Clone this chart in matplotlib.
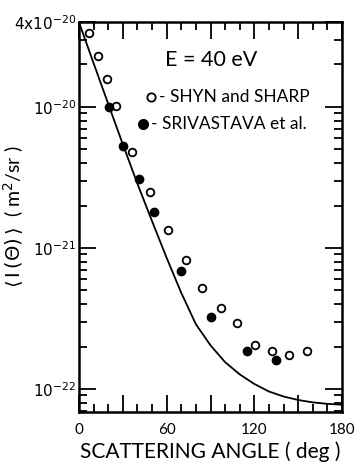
import matplotlib
matplotlib.use("Agg")
import matplotlib.pyplot as plt
from matplotlib.ticker import FixedLocator, NullFormatter

# Shyn and Sharp (open circles)
shyn_angle = [7, 13, 19, 25, 36, 48.5, 61, 73, 84, 97, 108, 120.5, 132, 144, 156]
shyn_val = [3.35e-20, 2.30e-20, 1.58e-20, 1.02e-20, 4.8e-21, 2.5e-21, 1.34e-21,
            8.2e-22, 5.2e-22, 3.77e-22, 2.94e-22, 2.06e-22, 1.87e-22, 1.75e-22, 1.85e-22]

# Srivastava et al. (filled circles)
sriv_angle = [20.5, 30, 41, 51, 70, 90, 115, 135]
sriv_val = [1.0e-20, 5.3e-21, 3.08e-21, 1.80e-21, 6.9e-22, 3.24e-22, 1.86e-22, 1.61e-22]

# theory curve
curve_angle = [0, 10, 20, 30, 40, 50, 60, 70, 80, 90, 100, 110, 120, 130, 140, 150, 160, 170, 180]
curve_val = [3.98e-20, 2.04e-20, 1.05e-20, 5.43e-21, 2.85e-21, 1.55e-21, 8.5e-22,
             4.8e-22, 2.88e-22, 2.04e-22, 1.55e-22, 1.27e-22, 1.086e-22, 9.6e-23,
             8.85e-23, 8.36e-23, 8.04e-23, 7.85e-23, 7.74e-23]

plt.rcParams['font.family'] = ['Lato', 'DejaVu Sans']
plt.rcParams['mathtext.fontset'] = 'dejavusans'

fig = plt.figure(figsize=(3.57, 4.62), dpi=100)
ax = fig.add_axes([0.2213, 0.1082, 0.7367, 0.8442])

ax.plot(curve_angle, curve_val, color='black', lw=1.3)
ax.plot(shyn_angle, shyn_val, 'o', mfc='white', mec='black', mew=1.3, ms=5.5)
ax.plot(sriv_angle, sriv_val, 'o', color='black', ms=6)

ax.set_yscale('log')
ax.set_xlim(0, 180)
ax.set_ylim(6.87e-23, 4e-20)

ax.xaxis.set_major_locator(FixedLocator(range(0, 181, 30)))
ax.xaxis.set_minor_locator(FixedLocator(range(0, 181, 10)))
ax.set_xticklabels(['0', '', '60', '', '120', '', '180'])
ax.yaxis.set_major_locator(FixedLocator([1e-22, 1e-21, 1e-20, 4e-20]))
ax.set_yticklabels([r'$10^{-22}$', r'$10^{-21}$', r'$10^{-20}$', r'$4\mathrm{x}10^{-20}$'])
minor = [k * 10.0 ** e for e in (-23, -22, -21, -20) for k in range(2, 10)]
ax.yaxis.set_minor_locator(FixedLocator(minor))
ax.yaxis.set_minor_formatter(NullFormatter())

ax.tick_params(which='both', direction='in', top=True, right=True, width=1.3, labelsize=11)
ax.tick_params(which='major', length=12)
ax.tick_params(which='minor', length=6)
ax.tick_params(axis='x', pad=8)
ax.tick_params(axis='y', pad=2)
for s in ax.spines.values():
    s.set_linewidth(1.8)

ax.set_xlabel('SCATTERING ANGLE ( deg )', fontsize=15, labelpad=3)
ax.set_ylabel(r'$\langle\,\mathrm{I}\,(\Theta)\,\rangle$  ( m$^2$/sr )', fontsize=14)
ax.yaxis.set_label_coords(-0.20, 0.5)

ax.text(0.327, 0.903, 'E = 40 eV', transform=ax.transAxes, fontsize=15.5, va='center')
ax.plot([0.274], [0.808], 'o', mfc='white', mec='black', mew=1.3, ms=6, transform=ax.transAxes)
ax.text(0.303, 0.808, '- SHYN and SHARP', transform=ax.transAxes, fontsize=12.5, va='center')
ax.plot([0.243], [0.738], 'o', color='black', ms=7, transform=ax.transAxes)
ax.text(0.275, 0.738, '- SRIVASTAVA et al.', transform=ax.transAxes, fontsize=12.5, va='center')

fig.savefig('out.png', dpi=100)
